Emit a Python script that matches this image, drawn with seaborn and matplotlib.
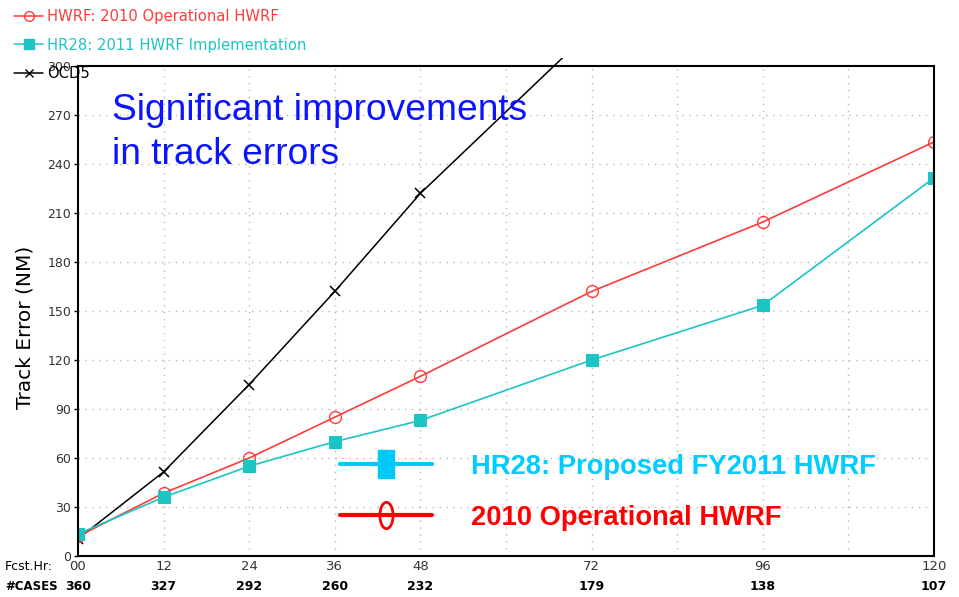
import numpy as np
import pandas as pd
import matplotlib
matplotlib.use("Agg")
import matplotlib.pyplot as plt
import seaborn as sns
from matplotlib.lines import Line2D
from matplotlib.patches import Rectangle
from matplotlib.path import Path
from matplotlib.transforms import Affine2D

# Data
hours = [0, 12, 24, 36, 48, 72, 96, 120]
hour_labels = ["00", "12", "24", "36", "48", "72", "96", "120"]
cases = ["360", "327", "292", "260", "232", "179", "138", "107"]
hwrf_2010 = [12, 38.5, 60, 85, 110, 162, 204.5, 253.5]
hr28_2011 = [13.5, 36, 55, 70, 83, 120, 153.5, 231.5]
ocd5_hours = [0, 12, 24, 36, 48, 72]
ocd5 = [10.5, 51.5, 105, 162, 222, 322]

RED = "#ff3b3b"
CYAN = "#1cc4c4"

sns.set_style("white")
plt.rcParams["font.family"] = ["DejaVu Sans"]

fig = plt.figure(figsize=(9.59, 5.97), dpi=100)
ax = fig.add_axes([78 / 959, 41 / 597, 856 / 959, 490 / 597])

sns.lineplot(x=ocd5_hours, y=ocd5, ax=ax, color="black", lw=1.1,
             marker="x", markersize=7, markeredgewidth=1.1,
             markeredgecolor="black")
ocd_line = ax.lines[-1]
sns.lineplot(x=hours, y=hwrf_2010, ax=ax, color=RED, lw=1.2,
             marker="o", markersize=8.5, markerfacecolor="none",
             markeredgecolor=RED, markeredgewidth=1.0)
sns.lineplot(x=hours, y=hr28_2011, ax=ax, color=CYAN, lw=1.2,
             marker="s", markersize=8, markerfacecolor=CYAN,
             markeredgecolor=CYAN)

# OCD5 spills a little over the top of the frame, as in the original
clip = Rectangle((0, 0), 1, 1.017, transform=ax.transAxes, fill=False)
ocd_line.set_clip_path(clip)

ax.set_xlim(0, 120)
ax.set_ylim(0, 300)
ax.set_yticks(np.arange(0, 301, 30))
grid_hours = list(range(0, 121, 12))
ax.set_xticks(grid_hours)
ax.set_xticklabels([hour_labels[hours.index(h)] if h in hours else ""
                    for h in grid_hours])
ax.grid(True, color="#b8b8b8", ls=(0, (1, 4)), lw=1.0)
for s in ax.spines.values():
    s.set_color("black")
    s.set_linewidth(1.5)
ax.tick_params(axis="y", length=3, width=1, colors="black",
               labelcolor="#333333", labelsize=9, pad=2, left=True)
ax.tick_params(axis="x", length=0, labelcolor="#333333", labelsize=9.5, pad=3)

for h, c in zip(hours, cases):
    ax.text(h, -0.063, c, transform=ax.get_xaxis_transform(), ha="center",
            va="center", fontsize=9, fontweight="bold", color="black")
fig.text(5 / 959, 1 - 566 / 597, "Fcst.Hr:", fontsize=9, va="center",
         color="black")
fig.text(5 / 959, 1 - 587 / 597, "#CASES", fontsize=8.5, va="center",
         fontweight="bold", color="black")

fig.text(25 / 959, 1 - 327 / 597, "Track Error (NM)", rotation=90,
         ha="center", va="center", fontsize=14.5, color="black")

# blue annotation
ax.text(112 / 959, 1 - 120 / 597, "Significant improvements",
        transform=fig.transFigure, fontsize=26.7, color="#0a14ff",
        family="Liberation Sans", va="baseline")
ax.text(112 / 959, 1 - 164 / 597, "in track errors",
        transform=fig.transFigure, fontsize=26.7, color="#0a14ff",
        family="Liberation Sans", va="baseline")

# top legend (GrADS style)
top_handles = [
    Line2D([], [], color=RED, lw=1.1, marker="o", markersize=7,
           markerfacecolor="none", markeredgecolor=RED),
    Line2D([], [], color=CYAN, lw=1.1, marker="s", markersize=7,
           markerfacecolor=CYAN, markeredgecolor=CYAN),
    Line2D([], [], color="black", lw=1.1, marker="x", markersize=6),
]
top_labels = ["HWRF: 2010 Operational HWRF", "HR28: 2011 HWRF Implementation",
              "OCD5"]
fig.legend(top_handles, top_labels, loc="upper left",
           bbox_to_anchor=(14 / 959, 1 - 9 / 597), frameon=False,
           fontsize=10.6, handlelength=2.0, handletextpad=0.25,
           labelspacing=0.92, borderpad=0, borderaxespad=0,
           labelcolor=[RED, CYAN, "black"])

# bottom legend with big markers
rect_marker = Path([(-0.3, -0.5), (0.3, -0.5), (0.3, 0.5), (-0.3, 0.5),
                    (-0.3, -0.5)], closed=True)
ellipse_marker = Path.unit_circle().transformed(Affine2D().scale(0.5, 1.0))
bot_handles = [
    Line2D([], [], color="#00c8f8", lw=3, marker=rect_marker, markersize=20,
           markerfacecolor="#00c8f8", markeredgecolor="#00c8f8"),
    Line2D([], [], color="#ff0000", lw=3, marker=ellipse_marker, markersize=19,
           markerfacecolor="none", markeredgecolor="#ff0000",
           markeredgewidth=2.0),
]
bot_labels = ["HR28: Proposed FY2011 HWRF", "2010 Operational HWRF"]
fig.legend(bot_handles, bot_labels, loc="upper left",
           bbox_to_anchor=(340 / 959, 1 - 454 / 597), frameon=False,
           prop={"family": "Liberation Sans", "weight": "bold", "size": 19.7},
           handlelength=3.35, handletextpad=1.45, labelspacing=0.9,
           borderpad=0, borderaxespad=0,
           labelcolor=["#00ccff", "#ff0000"])

fig.savefig("out.png", dpi=100)
